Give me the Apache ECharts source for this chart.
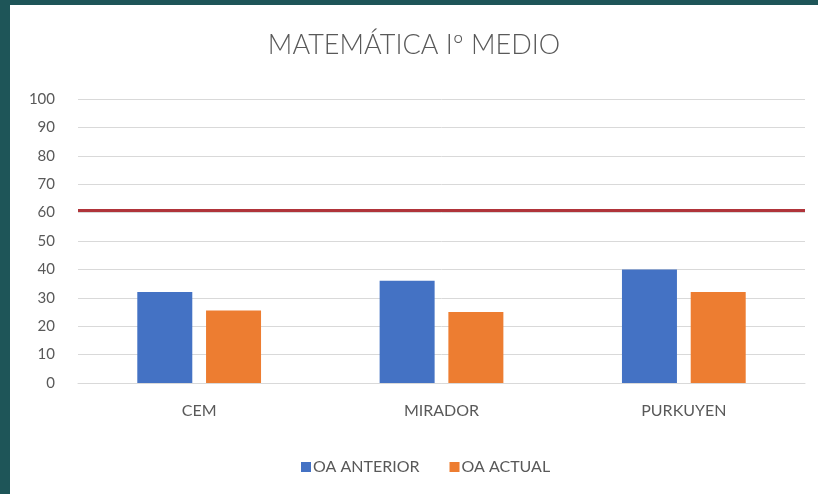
<!DOCTYPE html>
<html>
<head>
<meta charset="utf-8">
<script src="https://cdn.jsdelivr.net/npm/echarts@6/dist/echarts.min.js"></script>
<style>
    html, body {
        margin: 0;
        padding: 0;
        width: 818px;
        height: 494px;
        background: #1e5558;
        overflow: hidden;
    }
    #chart {
        position: absolute;
        left: 10px;
        top: 5px;
        width: 808px;
        height: 489px;
        background: #ffffff;
    }
</style>
</head>
<body>
<div id="chart"></div>
<script>
// datos
const categories = ['CEM', 'MIRADOR', 'PURKUYEN'];
const oaAnterior = [32, 36, 40];
const oaActual = [25.5, 25, 32];
const meta = 61;
const yTicks = { min: 0, max: 100, interval: 10 };

const myChart = echarts.init(document.getElementById('chart'), null, { renderer: 'canvas' });

const fontFamily = 'Lato, "Open Sans", sans-serif';
const gray = '#595959';

const option = {
    backgroundColor: '#ffffff',
    title: {
        text: 'MATEMÁTICA Iº MEDIO',
        left: 'center',
        top: 27,
        padding: [0, 0, 0, 18], // el titulo queda algo a la derecha
        textStyle: {
            fontFamily,
            fontSize: 27,
            fontWeight: 300,
            color: gray,
        },
    },
    legend: {
        top: 449,
        left: 286,
        itemWidth: 10,
        itemHeight: 10,
        itemGap: 30,
        icon: 'rect',
        textStyle: {
            fontFamily,
            fontSize: 16,
            color: gray,
            padding: [0, 0, 0, -3],
        },
        data: ['OA ANTERIOR', 'OA ACTUAL'],
    },
    grid: {
        left: 68,
        right: 13,
        top: 94,
        bottom: 111,
        containLabel: false,
    },
    xAxis: {
        type: 'category',
        data: categories,
        axisLine: { lineStyle: { color: '#d9d9d9' } },
        axisTick: { show: false },
        axisLabel: {
            color: gray,
            fontFamily,
            fontSize: 16,
            margin: 20,
        },
    },
    yAxis: {
        type: 'value',
        min: yTicks.min,
        max: yTicks.max,
        interval: yTicks.interval,
        axisLine: { show: false },
        axisTick: { show: false },
        axisLabel: {
            color: gray,
            fontFamily,
            fontSize: 15,
            margin: 23,
            padding: [4, 0, 0, 0],
        },
        splitLine: {
            lineStyle: { color: '#d9d9d9' },
        },
    },
    series: [
        {
            name: 'OA ANTERIOR',
            type: 'bar',
            data: oaAnterior,
            barWidth: 55,
            barGap: '25%',
            itemStyle: { color: '#4472c4' },
            markLine: {
                silent: true,
                symbol: 'none',
                label: { show: false },
                lineStyle: { color: '#b0343a', width: 3, type: 'solid' },
                data: [{ yAxis: meta }],
            },
        },
        {
            name: 'OA ACTUAL',
            type: 'bar',
            data: oaActual,
            barWidth: 55,
            itemStyle: { color: '#ed7d31' },
        },
    ],
};

myChart.setOption(option);
</script>
</body>
</html>
